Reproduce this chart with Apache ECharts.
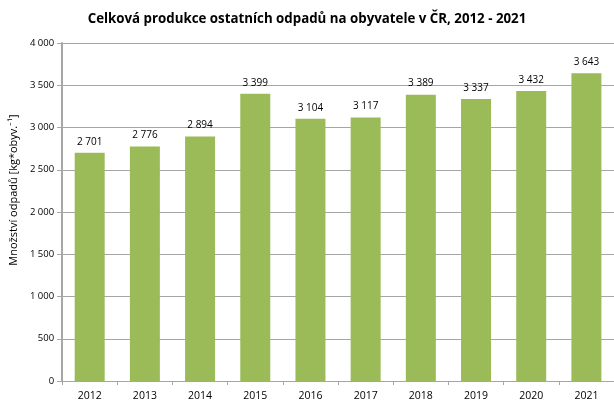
<!DOCTYPE html>
<html>
<head>
<meta charset="utf-8">
<script src="https://cdn.jsdelivr.net/npm/echarts@6/dist/echarts.min.js"></script>
<style>
  html, body { margin: 0; padding: 0; background: #fff; }
  #chart { width: 614px; height: 402px; }
</style>
</head>
<body>
<div id="chart"></div>
<script>
  // data
  var years = ['2012', '2013', '2014', '2015', '2016', '2017', '2018', '2019', '2020', '2021'];
  var values = [2701, 2776, 2894, 3399, 3104, 3117, 3389, 3337, 3432, 3643];
  var yTicks = [0, 500, 1000, 1500, 2000, 2500, 3000, 3500, 4000];

  function fmt(v) {
    return String(v).replace(/\B(?=(\d{3})+(?!\d))/g, ' ');
  }

  var font = '"Open Sans", "Liberation Sans", sans-serif';
  var chart = echarts.init(document.getElementById('chart'));

  chart.setOption({
    animation: false,
    textStyle: { fontFamily: font },
    title: {
      text: 'Celková produkce ostatních odpadů na obyvatele v ČR, 2012 - 2021',
      left: 302, top: 8, textAlign: 'center',
      textStyle: { fontSize: 13.3, fontWeight: 'bold', color: '#000', fontFamily: font }
    },
    grid: { left: 62, right: -4, top: 43, bottom: 19 },
    xAxis: {
      type: 'category',
      data: years,
      axisLine: { lineStyle: { color: '#a6a6a6', width: 1 } },
      axisTick: { show: true, length: 4, lineStyle: { color: '#a6a6a6' } },
      axisLabel: { fontSize: 10.5, color: '#000', margin: 10 }
    },
    yAxis: {
      type: 'value',
      min: yTicks[0], max: yTicks[yTicks.length - 1], interval: 500,
      name: 'Množství odpadů [kg*obyv.⁻¹]',
      nameLocation: 'middle', nameGap: 40, nameRotate: 90,
      nameTextStyle: { fontSize: 11, color: '#000', padding: [0, 0, 0, 44] },
      axisLine: { show: true, lineStyle: { color: '#a6a6a6', width: 2 } },
      axisTick: { show: true, inside: false, length: 5, lineStyle: { color: '#a6a6a6' } },
      axisLabel: { fontSize: 9.5, color: '#000', margin: 8, formatter: fmt },
      splitLine: { lineStyle: { color: '#a6a6a6', width: 1 } }
    },
    series: [{
      type: 'bar',
      data: values,
      barWidth: 30,
      itemStyle: { color: '#9bbb59' },
      label: {
        show: true, position: 'top', distance: 6,
        fontSize: 10, color: '#000',
        formatter: function (p) { return fmt(p.value); }
      }
    }]
  });
</script>
</body>
</html>
